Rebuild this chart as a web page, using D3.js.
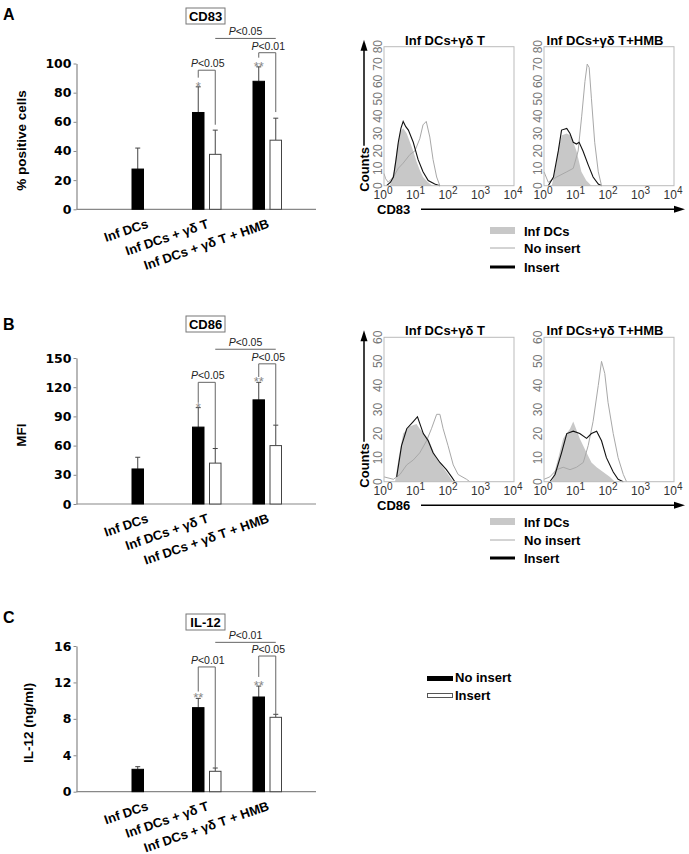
<!DOCTYPE html>
<html><head><meta charset="utf-8">
<script src="https://cdn.jsdelivr.net/npm/d3@7"></script>
<style>body{margin:0;background:#fff} svg{display:block}</style>
</head><body><svg id="fig" width="689" height="854"></svg>
<script>
// ---------------- DATA ----------------
const categories = ["Inf DCs", "Inf DCs + γδ T", "Inf DCs + γδ T + HMB"];
const seriesNames = ["No insert", "Insert"];

// Panel A: CD83 (% positive cells)
const cd83NoInsert = [27.6, 66.4, 87.8];
const cd83NoInsertSd = [14.4, 17.6, 9.9];
const cd83Insert = [null, 37.7, 47.4];
const cd83InsertSd = [null, 16.6, 15.1];
const cd83Stars = ["", "*", "**"];
const cd83Ticks = [0, 20, 40, 60, 80, 100];
const cd83PLabels = ["P<0.05", "P<0.01", "P<0.05"];
const cd83PLevels = [95.4, 107.4, 117.2];
const cd83PLegs = [[90.3, 58], [104, 66.7]];

// Panel B: CD86 (MFI)
const cd86NoInsert = [36, 79, 107];
const cd86NoInsertSd = [12, 20, 18];
const cd86Insert = [null, 42, 60];
const cd86InsertSd = [null, 15, 21];
const cd86Stars = ["", "*", "**"];
const cd86Ticks = [0, 30, 60, 90, 120, 150];
const cd86PLabels = ["P<0.05", "P<0.05", "P<0.05"];
const cd86PLevels = [125, 144, 159];
const cd86PLegs = [[104, 57.5], [130.5, 81]];

// Panel C: IL-12 (ng/ml)
const il12NoInsert = [2.46, 9.23, 10.4];
const il12NoInsertSd = [0.29, 1.02, 1.2];
const il12Insert = [null, 2.24, 8.17];
const il12InsertSd = [null, 0.36, 0.33];
const il12Stars = ["", "**", "**"];
const il12Ticks = [0, 4, 8, 12, 16];
const il12PLabels = ["P<0.01", "P<0.05", "P<0.01"];
const il12PLevels = [13.7, 14.9, 16.4];
const il12PLegs = [[11.0, 2.6], [12.6, 8.5]];

// Histograms: [log10 fluorescence, counts]
const histTitles = ["Inf DCs+γδ T", "Inf DCs+γδ T+HMB"];
const histLegend = ["Inf DCs", "No insert", "Insert"];
const decadeTicks = [0, 1, 2, 3, 4];
const cd83Counts = [0, 10, 20, 30, 40, 50, 60, 70, 80];
const cd86Counts = [0, 10, 20, 30, 40, 50, 60];

const cd83GdInfDC = [[0.18,0],[0.3,8],[0.4,22],[0.5,31],[0.59,33],[0.7,30],[0.8,25],[0.9,20],[1.0,14],[1.1,9],[1.2,5],[1.35,2],[1.5,0]];
const cd83GdInsert = [[0.08,0],[0.2,2],[0.29,5],[0.37,15],[0.44,25],[0.52,33],[0.59,37],[0.67,34],[0.75,32],[0.9,25],[1.05,15],[1.2,8],[1.36,3],[1.56,1],[1.72,0]];
const cd83GdNoInsert = [[0,7],[0.05,4],[0.13,2],[0.29,5],[0.44,10],[0.59,13],[0.8,18],[0.95,20],[1.1,27],[1.2,35],[1.3,37],[1.41,28],[1.51,15],[1.62,5],[1.72,0]];

const cd83HmbInfDC = [[0.24,0],[0.35,10],[0.45,22],[0.55,29],[0.7,30],[0.8,29],[0.9,25],[1.0,20],[1.1,12],[1.15,8],[1.3,3],[1.46,0]];
const cd83HmbInsert = [[0.13,0],[0.29,5],[0.44,20],[0.54,32],[0.7,33],[0.8,30],[0.9,25],[1.0,24],[1.08,25],[1.2,20],[1.36,12],[1.51,5],[1.67,1],[1.77,0]];
const cd83HmbNoInsert = [[0,8],[0.13,2],[0.39,5],[0.7,8],[0.9,10],[1.05,20],[1.16,40],[1.26,60],[1.33,70],[1.39,68],[1.46,50],[1.56,25],[1.67,8],[1.77,0]];

const cd86GdInfDC = [[0.34,0],[0.45,10],[0.59,20],[0.8,23],[1.0,24],[1.1,22],[1.36,18],[1.6,10],[1.92,4],[2.13,0]];
const cd86GdInsert = [[0.39,2],[0.54,15],[0.7,22],[0.9,25],[1.03,27],[1.21,20],[1.36,17],[1.51,12],[1.72,8],[1.92,5],[2.08,2],[2.18,0]];
const cd86GdNoInsert = [[0,2],[0.29,1],[0.49,3],[0.7,7],[0.9,9],[1.1,12],[1.31,17],[1.46,22],[1.62,28],[1.72,28],[1.82,22],[1.97,15],[2.13,7],[2.28,3],[2.54,1],[2.64,0]];

const cd86HmbInfDC = [[0.24,0],[0.44,10],[0.59,18],[0.8,22],[0.9,25],[1.1,18],[1.31,12],[1.46,8],[1.62,6],[1.82,4],[2.03,2],[2.18,0]];
const cd86HmbInsert = [[0.18,0],[0.34,3],[0.54,12],[0.7,20],[0.9,21],[1.1,20],[1.31,18],[1.46,20],[1.62,21],[1.77,17],[1.92,10],[2.13,4],[2.28,1],[2.44,0]];
const cd86HmbNoInsert = [[0,1],[0.18,2],[0.39,5],[0.59,6],[0.8,5],[1.0,6],[1.21,8],[1.36,15],[1.51,25],[1.67,40],[1.77,50],[1.87,45],[1.97,33],[2.13,20],[2.28,10],[2.44,3],[2.54,0]];

// ---------------- DRAWING ----------------
const FONT = '"Liberation Sans", Arial, sans-serif';
const svg = d3.select("#fig");
svg.append("rect").attr("width", 689).attr("height", 854).attr("fill", "#fff");

function txt(g, x, y, s, size, opts = {}) {
  return g.append("text").attr("x", x).attr("y", y).text(s)
    .attr("font-family", opts.family || FONT).attr("font-size", size)
    .attr("font-weight", opts.weight || "bold").attr("fill", opts.fill || "#000")
    .attr("text-anchor", opts.anchor || "start");
}

function pText(g, x, y, label) {
  const t = g.append("text").attr("x", x).attr("y", y).attr("text-anchor", "middle")
    .attr("font-family", FONT).attr("font-size", 10.5).attr("fill", "#222");
  t.append("tspan").attr("font-style", "italic").text(label[0]);
  t.append("tspan").text(label.slice(1));
}

function barChart(c) {
  const g = svg.append("g");
  const y = d3.scaleLinear().domain([0, c.max]).range([c.y0, c.y1]);
  const x = d3.scaleBand().domain(categories).range([115.75, 297.25]);
  const xs = d3.scaleBand().domain(seriesNames).range([-14.5, 15]).paddingInner(0.265);
  const cx = i => x(categories[i]) + x.bandwidth() / 2;
  const bw = xs.bandwidth();
  const bc = (i, s) => cx(i) + xs(s) + bw / 2;

  // letter & title box
  txt(g, 3, c.letterY, c.letter, 16);
  g.append("rect").attr("x", 186).attr("y", c.boxY).attr("width", 39).attr("height", 16)
    .attr("fill", "#fff").attr("stroke", "#777").attr("stroke-width", 1);
  txt(g, 205.5, c.boxY + 12.5, c.title, 13, { anchor: "middle" });

  // axes
  g.append("line").attr("x1", 76.5).attr("x2", 316).attr("y1", y(0)).attr("y2", y(0))
    .attr("stroke", "#888").attr("stroke-width", 1.2);
  const ax = g.append("g").attr("transform", "translate(76.5,0)")
    .call(d3.axisLeft(y).tickValues(c.ticks).tickSize(3).tickPadding(2).tickSizeOuter(0));
  ax.select(".domain").attr("stroke", "#888").attr("stroke-width", 1.2);
  ax.selectAll(".tick line").attr("stroke", "#888");
  ax.selectAll(".tick text").attr("font-family", '"DejaVu Sans", sans-serif')
    .attr("font-weight", "bold").attr("font-size", 12.5).attr("fill", "#000");

  // y title
  g.append("text").attr("transform", `translate(${c.yTitleX},${(c.y0 + c.y1) / 2 + 4}) rotate(-90)`)
    .attr("dy", "0.35em").attr("text-anchor", "middle").attr("font-family", FONT)
    .attr("font-weight", "bold").attr("font-size", 13.5).text(c.yTitle);

  // x labels
  categories.forEach((cat, i) => {
    g.append("text").attr("transform", `translate(${cx(i) + 3},${c.y0 + 18}) rotate(-19)`)
      .attr("text-anchor", "end").attr("font-family", FONT).attr("font-weight", "bold")
      .attr("font-size", 13).text(cat);
  });

  // bars + error bars
  const drawBar = (vals, sds, s, fill) => {
    vals.forEach((v, i) => {
      if (v == null) return;
      const xc = bc(i, s);
      const top = y(v + sds[i]);
      g.append("line").attr("x1", xc).attr("x2", xc).attr("y1", y(v)).attr("y2", top)
        .attr("stroke", "#444").attr("stroke-width", 1);
      g.append("line").attr("x1", xc - 2.5).attr("x2", xc + 2.5).attr("y1", top).attr("y2", top)
        .attr("stroke", "#444").attr("stroke-width", 1);
      g.append("rect").attr("x", cx(i) + xs(s) + 0.5).attr("y", y(v))
        .attr("width", bw - 1).attr("height", y(0) - y(v))
        .attr("fill", fill).attr("stroke", fill === "#000" ? "#000" : "#444").attr("stroke-width", 1);
    });
  };
  drawBar(c.noIns, c.noInsSd, "No insert", "#000");
  drawBar(c.ins, c.insSd, "Insert", "#fff");

  // stars
  c.stars.forEach((s, i) => {
    if (!s) return;
    g.append("text").attr("x", bc(i, "No insert")).attr("y", y(c.noIns[i] + c.noInsSd[i]) + 4)
      .attr("text-anchor", "middle").attr("font-family", FONT).attr("font-size", 13)
      .attr("fill", "#888").text(s);
  });

  // brackets for groups 2 and 3
  [1, 2].forEach((i, k) => {
    const xl = bc(i, "No insert"), xr = bc(i, "Insert");
    const yl = y(c.pLevels[k]);
    g.append("path").attr("d", `M${xl},${y(c.pLegs[k][0])}V${yl}H${xr}V${y(c.pLegs[k][1])}`)
      .attr("fill", "none").attr("stroke", "#666").attr("stroke-width", 1);
    pText(g, (xl + xr) / 2 + 1, yl - 3, c.pLabels[k]);
  });
  // top comparison line
  const xa = bc(1, "Insert"), xb = bc(2, "Insert"), yt = y(c.pLevels[2]);
  g.append("line").attr("x1", xa).attr("x2", xb).attr("y1", yt).attr("y2", yt)
    .attr("stroke", "#666").attr("stroke-width", 1);
  pText(g, (xa + xb) / 2, yt - 3, c.pLabels[2]);
}

barChart({ letter: "A", letterY: 20, title: "CD83", boxY: 8, y0: 209.3, y1: 63.5, max: 100, ticks: cd83Ticks,
  noIns: cd83NoInsert, noInsSd: cd83NoInsertSd, ins: cd83Insert, insSd: cd83InsertSd, stars: cd83Stars,
  pLabels: cd83PLabels, pLevels: cd83PLevels, pLegs: cd83PLegs, yTitle: "% positive cells", yTitleX: 21 });
barChart({ letter: "B", letterY: 330, title: "CD86", boxY: 316, y0: 504, y1: 358, max: 150, ticks: cd86Ticks,
  noIns: cd86NoInsert, noInsSd: cd86NoInsertSd, ins: cd86Insert, insSd: cd86InsertSd, stars: cd86Stars,
  pLabels: cd86PLabels, pLevels: cd86PLevels, pLegs: cd86PLegs, yTitle: "MFI", yTitleX: 21 });
barChart({ letter: "C", letterY: 623, title: "IL-12", boxY: 614, y0: 791.7, y1: 646, max: 16, ticks: il12Ticks,
  noIns: il12NoInsert, noInsSd: il12NoInsertSd, ins: il12Insert, insSd: il12InsertSd, stars: il12Stars,
  pLabels: il12PLabels, pLevels: il12PLevels, pLegs: il12PLegs, yTitle: "IL-12 (ng/ml)", yTitleX: 28 });

// C legend
(function () {
  const g = svg.append("g");
  g.append("rect").attr("x", 427).attr("y", 676).attr("width", 26).attr("height", 5).attr("fill", "#000");
  txt(g, 455, 682, seriesNames[0], 13);
  g.append("rect").attr("x", 427.5).attr("y", 693.5).attr("width", 25).attr("height", 4)
    .attr("fill", "#fff").attr("stroke", "#555").attr("stroke-width", 1);
  txt(g, 455, 700, seriesNames[1], 13);
})();

// Histograms
function histPanel(g, x0, x1, yTop, yBot, ymax, yTicks, title, infdc, noins, ins) {
  const x = d3.scaleLinear().domain([0, 4]).range([x0, x1]);
  const y = d3.scaleLinear().domain([0, ymax]).range([yBot, yTop]);
  g.append("path").datum(infdc)
    .attr("d", d3.area().x(d => x(d[0])).y0(yBot).y1(d => y(d[1])))
    .attr("fill", "#c8c8c8");
  const line = d3.line().x(d => x(d[0])).y(d => y(d[1]));
  g.append("path").datum(noins).attr("d", line).attr("fill", "none").attr("stroke", "#a8a8a8").attr("stroke-width", 1);
  g.append("path").datum(ins).attr("d", line).attr("fill", "none").attr("stroke", "#111").attr("stroke-width", 1.1);
  g.append("rect").attr("x", x0).attr("y", yTop).attr("width", x1 - x0).attr("height", yBot - yTop)
    .attr("fill", "none").attr("stroke", "#bbb").attr("stroke-width", 1);
  yTicks.forEach(v => {
    g.append("text").attr("transform", `translate(${x0 - 2},${y(v)}) rotate(-90)`)
      .attr("text-anchor", "middle").attr("font-family", FONT).attr("font-size", 12)
      .attr("fill", "#777").text(v);
  });
  decadeTicks.forEach(k => {
    const t = g.append("text").attr("x", x(k) - 1).attr("y", yBot + 13.5).attr("text-anchor", "middle")
      .attr("font-family", FONT).attr("font-size", 12).attr("fill", "#333");
    t.append("tspan").text("10");
    t.append("tspan").attr("dy", -5.5).attr("font-size", 10).text(k);
  });
  txt(g, (x0 + x1) / 2 - 4, yTop - 2, title, 13, { anchor: "middle" });
}

function histBlock(yTop, yBot, ymax, yTicks, marker, sets, legY) {
  const g = svg.append("g");
  histPanel(g, 384, 514, yTop, yBot, ymax, yTicks, histTitles[0], sets[0][0], sets[0][1], sets[0][2]);
  histPanel(g, 544, 674, yTop, yBot, ymax, yTicks, histTitles[1], sets[1][0], sets[1][1], sets[1][2]);
  // Counts arrow
  g.append("text").attr("transform", `translate(368.5,${yBot + 6}) rotate(-90)`)
    .attr("font-family", FONT).attr("font-weight", "bold").attr("font-size", 13).text("Counts");
  const top = yTop - 7;
  g.append("line").attr("x1", 364).attr("x2", 364).attr("y1", yBot - 40).attr("y2", top + 8)
    .attr("stroke", "#000").attr("stroke-width", 1.5);
  g.append("path").attr("d", `M364,${top}L360.5,${top + 11}L367.5,${top + 11}Z`).attr("fill", "#000");
  // marker arrow
  const ay = yBot + 23.5;
  txt(g, 377, ay + 5, marker, 13);
  g.append("line").attr("x1", 421).attr("x2", 676).attr("y1", ay).attr("y2", ay)
    .attr("stroke", "#000").attr("stroke-width", 1.5);
  g.append("path").attr("d", `M685,${ay}L674,${ay - 3.5}L674,${ay + 3.5}Z`).attr("fill", "#000");
  // legend
  g.append("rect").attr("x", 490).attr("y", legY[0] - 4).attr("width", 25).attr("height", 7).attr("fill", "#c8c8c8");
  g.append("line").attr("x1", 490).attr("x2", 515).attr("y1", legY[1]).attr("y2", legY[1]).attr("stroke", "#a8a8a8").attr("stroke-width", 1);
  g.append("line").attr("x1", 490).attr("x2", 515).attr("y1", legY[2]).attr("y2", legY[2]).attr("stroke", "#000").attr("stroke-width", 3);
  histLegend.forEach((s, i) => txt(g, 524, legY[i] + 5, s, 13));
}

histBlock(46.7, 185.7, 80, cd83Counts, "CD83",
  [[cd83GdInfDC, cd83GdNoInsert, cd83GdInsert], [cd83HmbInfDC, cd83HmbNoInsert, cd83HmbInsert]], [231, 248, 267]);
histBlock(337.3, 481.7, 60, cd86Counts, "CD86",
  [[cd86GdInfDC, cd86GdNoInsert, cd86GdInsert], [cd86HmbInfDC, cd86HmbNoInsert, cd86HmbInsert]], [522, 540, 558]);
</script></body></html>
